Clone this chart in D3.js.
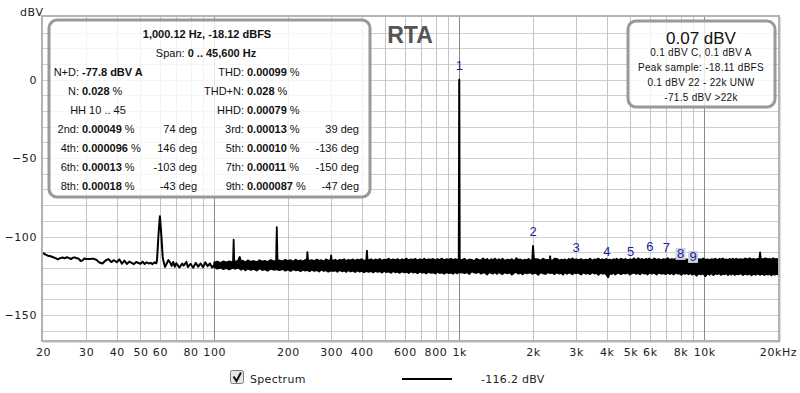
<!DOCTYPE html>
<html lang="en">
<head>
<meta charset="utf-8">
<title>RTA</title>
<script src="https://d3js.org/d3.v7.min.js"></script>
<style>
  body { margin: 0; background: #fff; }
</style>
</head>
<body>
<div id="chart"></div>
<script>
// ---- data ----
const xTickValues = [20, 30, 40, 50, 60, 80, 100, 200, 300, 400, 600, 800, 1000, 2000, 3000, 4000, 5000, 6000, 8000, 10000, 20000];
const xTickLabels = ["20", "30", "40", "50", "60", "80", "100", "200", "300", "400", "600", "800", "1k", "2k", "3k", "4k", "5k", "6k", "8k", "10k", "20kHz"];
const xMinorGrid = [30, 40, 50, 60, 70, 80, 90, 200, 300, 400, 500, 600, 700, 800, 900, 2000, 3000, 4000, 5000, 6000, 7000, 8000, 9000];
const xMajorGrid = [100, 1000, 10000];
const yTickValues = [0, -50, -100, -150];
const yGridValues = [30, 20, 10, 0, -10, -20, -30, -40, -50, -60, -70, -80, -90, -100, -110, -120, -130, -140, -150, -160];

// spectrum below 100 Hz, one trace [Hz, dBV]
const lowBand = [
  [20, -110.5], [20.5, -111.5], [21, -112.3], [21.5, -112.6], [22, -113.2], [22.5, -113.8], [23, -114.6], [23.5, -113.8],
  [24, -113.4], [24.5, -113.9], [25, -113.2], [25.5, -113.6], [26, -114.4], [26.5, -113.5], [27, -113.3], [27.5, -113.9],
  [28, -114.2], [28.5, -115.6], [29, -115.2], [29.5, -114.0], [30, -114.3], [31, -114.4], [32, -114.1], [33, -114.8],
  [34, -116.6], [35, -117.2], [36, -115.3], [37, -114.4], [38, -116.3], [39, -115.1], [40, -116.4], [41, -114.6],
  [42, -117.3], [43, -115.4], [44, -117.5], [45, -116.0], [46, -116.8], [47, -117.6], [48, -116.2], [49, -116.9],
  [50, -117.4], [51, -116.1], [52, -117.5], [53, -116.4], [54, -117.2], [55, -116.8], [56, -117.6], [57, -116.5],
  [58, -117.1], [58.4, -115], [59.2, -99], [60, -87], [60.8, -99], [61.6, -113], [62, -115.5], [63, -119.4],
  [64, -117.2], [65, -115.0], [66, -116.5], [67, -118.7], [68, -116.2], [69, -119.3], [70, -117.0], [72, -119.8],
  [74, -117.3], [75, -118.6], [77, -116.2], [78, -119.5], [80, -117.4], [82, -119.9], [84, -116.8], [86, -119.2],
  [88, -117.2], [90, -119.6], [92, -116.4], [94, -118.9], [96, -117.2], [98, -119.8]
];
// above 100 Hz the trace fills each display column: [Hz, max dBV, min dBV]
const midBand = [
  [100, -116.5, -119.5], [103, -116, -120.5], [106, -117, -119.8], [109, -115.8, -120.8], [112, -116.6, -120], [115, -115.9, -121],
  [118, -116.4, -120.2], [119.3, -116.2, -120], [120, -102, -118], [120.7, -116.5, -120.3], [122, -116, -120.6], [125, -115.5, -119.8],
  [127, -113, -120.5], [129, -116.2, -121.2],
  [131, -115.4, -120.1], [134, -116.5, -121.6], [137, -115.2, -120.4], [141, -116.1, -121.3], [145, -115.6, -120.6], [149, -116.4, -121.7],
  [153, -115.1, -120.3], [157, -116, -121.4], [161, -115.5, -120.8], [165, -116.3, -121.9], [170, -115, -120.5], [175, -115.8, -121.2],
  [178.8, -115.6, -120.9], [180, -94, -119], [181.2, -115.4, -121.1],
  [185, -115.3, -121.4], [190, -115.9, -120.6], [195, -114.9, -121.8], [200, -115.6, -121], [205, -115.1, -122],
  [210, -116, -120.9], [215, -114.8, -121.6], [220, -115.7, -121.2], [225, -115.2, -122.1], [230, -115.9, -121], [235, -114.9, -121.8],
  [238.5, -115.5, -121.5], [240, -110, -121.3], [241.5, -115.2, -121.7], [245, -115.4, -122.2], [250, -115, -121.1], [256, -115.8, -121.9],
  [262, -114.7, -121.4], [268, -115.5, -122.3],
  [274, -115.1, -121], [280, -115.9, -122], [286, -114.6, -121.5], [292, -115.3, -122.4], [298.2, -115.6, -121.8], [300, -112, -121.2],
  [301.8, -115.2, -121.9], [306, -115.4, -122],
  [312, -114.8, -121.6], [318, -115.6, -122.5], [325, -114.9, -121.3], [332, -115.2, -122.2], [339, -114.5, -121.7], [346, -115.7, -122.6],
  [353, -114.8, -121.4], [360, -115.3, -122.3], [368, -114.6, -121.8], [376, -115.5, -122.7], [384, -114.7, -121.5], [392, -115.2, -122.4],
  [400, -114.4, -121.9], [408, -115.6, -122.8], [417.5, -115.1, -122.1], [420, -109, -121.6], [422.5, -115.3, -122.4], [428, -115, -122.5],
  [437, -114.5, -122], [446, -115.4, -122.9],
  [455, -114.6, -121.8], [464, -115.1, -122.6], [474, -114.3, -122.1], [484, -115.5, -123], [494, -114.7, -121.9], [504, -115, -122.7],
  [515, -114.2, -122.3], [526, -115.3, -123.1], [537, -114.6, -122], [548, -115.1, -122.8], [560, -114.4, -122.4], [572, -115.4, -123.2],
  [584, -114.5, -122.1], [596, -115, -122.9], [609, -114.1, -122.5], [622, -115.2, -123.3], [635, -114.6, -122.2], [648, -114.9, -123],
  [662, -114.3, -122.6], [676, -115.3, -123.4], [690, -114.5, -122.3], [705, -115, -123.1], [720, -114.2, -122.7], [735, -115.1, -123.5],
  [750, -114.6, -122.4], [766, -114.9, -123.2], [782, -114.3, -122.8], [798, -115.2, -123.6], [815, -114.4, -122.5], [832, -115, -123.3],
  [850, -114.1, -122.9], [868, -115.1, -123.7], [886, -114.5, -122.6], [905, -114.8, -123.4], [924, -114.2, -123], [943, -115, -123.8],
  [963, -114.4, -122.7], [983, -114.9, -123.5]
];
const fundamental = [[995, -114.5, -122.5], [999, 0.07, -119], [1000, 0.07, -119], [1001, 0.07, -119], [1005, -114.8, -123]];
const highBand = [
  [1025, -115.0, -122.8], [1050, -114.2, -123.4], [1075, -115.6, -122.6], [1100, -114.6, -123.9], [1125, -114.9, -122.1], [1150, -115.8, -123.0],
  [1175, -114.3, -123.2], [1200, -114.9, -122.4], [1225, -115.4, -123.7], [1250, -114.0, -122.9], [1275, -115.2, -123.1], [1300, -114.3, -124.2],
  [1325, -115.7, -122.6], [1350, -114.5, -123.3], [1375, -115.0, -123.6], [1400, -114.1, -122.7], [1425, -115.5, -123.8], [1450, -114.5, -122.5],
  [1475, -115.3, -123.4], [1500, -114.2, -124.0], [1535, -115.6, -122.8], [1570, -114.7, -123.5], [1605, -115.1, -122.9], [1640, -114.4, -124.3],
  [1675, -115.8, -123.1], [1710, -113.9, -122.6], [1745, -115.0, -123.7], [1780, -114.6, -123.0], [1815, -115.4, -124.1], [1850, -114.8, -122.8],
  [1885, -115.2, -123.5], [1920, -114.3, -123.2], [1955, -115.5, -122.9], [1985, -114.9, -123.8], [2000, -106, -122.5], [2020, -115.1, -123.6],
  [2050, -114.4, -123.0], [2100, -114.6, -124.4], [2150, -115.3, -122.7], [2200, -114.2, -123.5], [2250, -115.0, -123.9], [2300, -114.9, -122.8],
  [2340, -115.1, -123.2], [2350, -112.6, -123.4], [2360, -115.2, -123.0], [2400, -115.4, -123.1], [2450, -114.1, -124.0], [2500, -114.2, -122.9],
  [2550, -115.3, -123.6], [2600, -114.8, -123.2],
  [2650, -115.1, -124.3], [2700, -114.6, -122.7], [2750, -115.5, -123.8], [2800, -114.3, -123.0], [2850, -114.9, -123.4], [2900, -114.0, -124.1],
  [2950, -115.2, -122.8], [3000, -114.5, -123.5], [3070, -115.0, -123.1], [3140, -114.4, -124.2], [3210, -115.3, -122.9], [3280, -114.7, -123.7],
  [3350, -115.1, -123.3], [3420, -114.2, -124.0], [3490, -115.4, -122.8], [3560, -114.6, -123.6], [3630, -114.9, -123.2], [3700, -114.1, -124.4],
  [3770, -115.2, -123.0], [3840, -114.5, -123.8], [3910, -115.0, -123.4], [3980, -114.3, -124.1], [4050, -115.1, -126.0], [4120, -114.7, -123.3],
  [4190, -115.3, -123.9], [4260, -114.5, -123.0], [4330, -114.8, -124.2], [4400, -114.2, -123.5], [4470, -115.4, -123.1], [4570, -114.2, -124.0],
  [4670, -114.9, -123.2], [4770, -114.4, -123.7], [4870, -115.2, -122.9], [4970, -114.6, -124.3], [5070, -114.9, -123.4], [5170, -114.0, -123.0],
  [5270, -115.3, -123.8], [5370, -113.9, -123.2], [5470, -114.8, -124.1], [5570, -114.3, -122.9], [5670, -115.0, -123.6], [5770, -114.3, -123.3],
  [5870, -114.7, -124.2], [5970, -114.1, -123.0], [6110, -115.2, -123.7], [6250, -114.0, -123.1], [6390, -114.9, -124.3], [6530, -114.4, -123.0],
  [6670, -115.1, -123.8], [6810, -114.4, -123.4], [6950, -114.8, -124.0], [7090, -113.8, -123.1], [7230, -115.0, -123.9], [7370, -114.4, -123.3],
  [7510, -114.9, -124.2], [7650, -114.2, -123.0], [7790, -115.3, -123.7], [7930, -114.5, -123.5], [8070, -114.8, -124.4], [8210, -114.1, -123.2],
  [8350, -115.2, -123.8], [8490, -114.6, -123.4], [8630, -114.9, -124.1], [8770, -114.3, -123.0], [8910, -115.1, -124.3], [9100, -114.2, -123.5],
  [9300, -115.0, -125.0], [9500, -114.5, -123.6], [9700, -114.8, -124.2], [9900, -114.1, -123.4], [10100, -114.9, -125.4], [10300, -114.6, -123.5],
  [10500, -115.0, -124.4], [10700, -114.5, -123.3], [10900, -114.8, -124.6], [11100, -114.2, -123.6], [11300, -115.1, -124.0], [11500, -114.3, -123.2],
  [11700, -114.7, -124.5], [11900, -114.0, -123.7], [12100, -114.9, -124.1], [12300, -114.6, -123.4], [12500, -115.0, -124.6], [12700, -114.3, -123.5],
  [12900, -114.8, -124.3], [13100, -114.1, -123.3], [13300, -114.9, -124.5], [13500, -114.2, -123.8], [13800, -114.7, -124.2], [14100, -114.4, -123.4],
  [14400, -114.9, -124.6], [14700, -114.0, -123.6], [15000, -114.6, -124.3], [15300, -113.8, -123.5], [15600, -114.7, -124.7], [15900, -114.2, -123.8],
  [16200, -114.8, -124.4], [16500, -114.3, -123.6], [16780, -114.6, -124.1], [16900, -110.2, -124.5], [17020, -114.4, -124.0], [17300, -114.5, -123.9],
  [17600, -114.1, -124.6], [17900, -114.0, -123.7],
  [18200, -114.6, -124.3], [18500, -114.2, -123.6], [18800, -114.8, -124.7], [19100, -113.9, -123.8], [19400, -114.5, -124.4], [19700, -114.3, -123.9],
  [20000, -114.6, -124.2]
];

// harmonic markers
const harmLabels = ["1", "2", "3", "4", "5", "6", "7", "8", "9"];
const harmFreqs = [1000.12, 2000.24, 3000.36, 4000.48, 5000.6, 6000.72, 7000.84, 8000.96, 9001.08];
const harmLabelDb = [8.9, -97.0, -107.2, -109.8, -109.8, -106.6, -107.2, -111.1, -113.0];
const harmHighlighted = [false, false, false, false, false, false, false, true, true];

// measurement panel
const infoHeader = ["1,000.12 Hz, -18.12 dBFS"];
const infoSpan = ["Span: ", "0 .. 45,600 Hz"];
const infoRows = [
  { l1: "N+D:", v1: "-77.8 dBV A", s1: "", l2: "THD:", v2: "0.00099", s2: " %" },
  { l1: "N:", v1: "0.028", s1: " %", l2: "THD+N:", v2: "0.028", s2: " %" },
  { c1: "HH 10 .. 45", l2: "HHD:", v2: "0.00079", s2: " %" },
  { l1: "2nd:", v1: "0.00049", s1: " %", d1: "74 deg", l2: "3rd:", v2: "0.00013", s2: " %", d2: "39 deg" },
  { l1: "4th:", v1: "0.000096", s1: " %", d1: "146 deg", l2: "5th:", v2: "0.00010", s2: " %", d2: "-136 deg" },
  { l1: "6th:", v1: "0.00013", s1: " %", d1: "-103 deg", l2: "7th:", v2: "0.00011", s2: " %", d2: "-150 deg" },
  { l1: "8th:", v1: "0.00018", s1: " %", d1: "-43 deg", l2: "9th:", v2: "0.000087", s2: " %", d2: "-47 deg" }
];
const levelMain = "0.07 dBV";
const levelLines = ["0.1 dBV C, 0.1 dBV A", "Peak sample: -18.11 dBFS", "0.1 dBV 22 - 22k UNW", "-71.5 dBV >22k"];
const legendName = "Spectrum";
const legendValue = "-116.2 dBV";

// ---- drawing ----
const width = 800, height = 393;
const plot = { left: 43, right: 778, top: 17, bottom: 340 };
const axisFont = "DejaVu Sans", boxFont = "Liberation Sans";

const svg = d3.select("#chart").append("svg")
  .attr("width", width)
  .attr("height", height)
  .attr("font-family", axisFont);

const x = d3.scaleLog().domain([20, 20000]).range([plot.left, plot.right]);
const y = d3.scaleLinear().domain([-166, 40]).range([plot.bottom, plot.top]);

svg.append("defs").append("clipPath").attr("id", "plotclip")
  .append("rect")
  .attr("x", plot.left).attr("y", plot.top)
  .attr("width", plot.right - plot.left).attr("height", plot.bottom - plot.top);

// grid
const grid = svg.append("g");
grid.selectAll(".hgrid").data(yGridValues).enter().append("line")
  .attr("x1", plot.left).attr("x2", plot.right)
  .attr("y1", d => Math.round(y(d)) + 0.5).attr("y2", d => Math.round(y(d)) + 0.5)
  .attr("stroke", "#cfcfcf");
grid.selectAll(".vgrid").data(xMinorGrid).enter().append("line")
  .attr("x1", d => Math.round(x(d)) + 0.5).attr("x2", d => Math.round(x(d)) + 0.5)
  .attr("y1", plot.top).attr("y2", plot.bottom)
  .attr("stroke", "#c4c4c4");
grid.selectAll(".vmajor").data(xMajorGrid).enter().append("line")
  .attr("x1", d => Math.round(x(d)) + 0.5).attr("x2", d => Math.round(x(d)) + 0.5)
  .attr("y1", plot.top).attr("y2", plot.bottom)
  .attr("stroke", "#8a8a8a");

// plot frame
svg.append("rect")
  .attr("x", plot.left - 1).attr("y", plot.top - 1)
  .attr("width", plot.right - plot.left + 2).attr("height", plot.bottom - plot.top + 2)
  .attr("fill", "none").attr("stroke", "#b4b4b4").attr("stroke-width", 2);
svg.append("line")
  .attr("x1", plot.right + 2.5).attr("x2", plot.right + 2.5)
  .attr("y1", plot.top).attr("y2", plot.bottom + 2)
  .attr("stroke", "#dcdcdc");
svg.append("line")
  .attr("x1", plot.left).attr("x2", plot.right + 2)
  .attr("y1", plot.bottom + 2.5).attr("y2", plot.bottom + 2.5)
  .attr("stroke", "#dcdcdc");

// axes (labels only)
const xAxis = d3.axisBottom(x).tickValues(xTickValues)
  .tickFormat((d, i) => xTickLabels[i]).tickSize(0).tickPadding(8);
svg.append("g").attr("transform", `translate(0,${plot.bottom})`).call(xAxis)
  .call(g => g.select(".domain").remove())
  .call(g => g.selectAll("text").attr("font-size", 11).attr("fill", "#222")
    .attr("font-family", axisFont).attr("letter-spacing", "0.6px"));

const yAxis = d3.axisLeft(y).tickValues(yTickValues).tickSize(0).tickPadding(6);
svg.append("g").attr("transform", `translate(${plot.left},0)`).call(yAxis)
  .call(g => g.select(".domain").remove())
  .call(g => g.selectAll("text").attr("font-size", 11).attr("fill", "#222")
    .attr("font-family", axisFont).attr("letter-spacing", "0.6px"));

svg.append("text").attr("x", 20).attr("y", 16)
  .attr("font-size", 11).attr("fill", "#222").attr("letter-spacing", "0.6px").text("dBV");

// title
svg.append("text").attr("x", 410).attr("y", 43)
  .attr("text-anchor", "middle").attr("font-family", boxFont)
  .attr("font-weight", "bold").attr("font-size", 23).attr("fill", "#555")
  .text("RTA");

// spectrum: single trace below 100 Hz, min/max envelope above
const columns = midBand.concat(fundamental, highBand);
const traceLine = d3.line().x(d => x(d[0])).y(d => y(d[1]));
const envelope = d3.area().x(d => x(d[0])).y0(d => y(d[2])).y1(d => y(d[1]));
const spec = svg.append("g").attr("clip-path", "url(#plotclip)");
spec.append("path")
  .datum(lowBand.concat([[columns[0][0], (columns[0][1] + columns[0][2]) / 2]]))
  .attr("d", traceLine)
  .attr("fill", "none")
  .attr("stroke", "#000")
  .attr("stroke-width", 2)
  .attr("stroke-linejoin", "round");
spec.append("path")
  .datum(columns)
  .attr("d", envelope)
  .attr("fill", "#000")
  .attr("stroke", "#000")
  .attr("stroke-width", 1.8)
  .attr("stroke-linejoin", "round");

// harmonic markers
const marks = svg.append("g").selectAll("g").data(harmLabels).enter().append("g")
  .attr("transform", (d, i) => `translate(${x(harmFreqs[i])},${y(harmLabelDb[i])})`);
marks.filter((d, i) => harmHighlighted[i]).append("rect")
  .attr("x", -5).attr("y", -6).attr("width", 10).attr("height", 12)
  .attr("fill", "#cdd3de");
marks.append("text")
  .attr("text-anchor", "middle").attr("dy", 4.5)
  .attr("font-family", boxFont).attr("font-size", 13)
  .attr("fill", "#1c1c9c")
  .text(d => d);

// measurement panel (left)
const info = svg.append("g").attr("font-family", boxFont).attr("font-size", 11).attr("fill", "#111");
info.append("rect")
  .attr("x", 49).attr("y", 20).attr("width", 321).attr("height", 177)
  .attr("rx", 8).attr("ry", 8)
  .attr("fill", "#fff").attr("fill-opacity", 0.8)
  .attr("stroke", "#999").attr("stroke-width", 3);
info.append("text").attr("x", 207).attr("y", 38).attr("text-anchor", "middle")
  .attr("font-weight", "bold").text(infoHeader[0]);
const spanText = info.append("text").attr("x", 206).attr("y", 57).attr("text-anchor", "middle");
spanText.append("tspan").text(infoSpan[0]);
spanText.append("tspan").attr("font-weight", "bold").text(infoSpan[1]);

const rowY = [76, 95, 114, 133, 152, 171, 190];
infoRows.forEach((r, i) => {
  const yy = rowY[i];
  if (r.c1) {
    info.append("text").attr("x", 98).attr("y", yy).attr("text-anchor", "middle").text(r.c1);
  } else {
    info.append("text").attr("x", 79).attr("y", yy).attr("text-anchor", "end").text(r.l1);
    const t = info.append("text").attr("x", 82).attr("y", yy);
    t.append("tspan").attr("font-weight", "bold").text(r.v1);
    t.append("tspan").text(r.s1);
  }
  if (r.d1) info.append("text").attr("x", 197).attr("y", yy).attr("text-anchor", "end").text(r.d1);
  info.append("text").attr("x", 244).attr("y", yy).attr("text-anchor", "end").text(r.l2);
  const t2 = info.append("text").attr("x", 247).attr("y", yy);
  t2.append("tspan").attr("font-weight", "bold").text(r.v2);
  t2.append("tspan").text(r.s2);
  if (r.d2) info.append("text").attr("x", 359).attr("y", yy).attr("text-anchor", "end").text(r.d2);
});

// level panel (right)
const lvl = svg.append("g").attr("font-family", boxFont).attr("fill", "#111");
lvl.append("rect")
  .attr("x", 628).attr("y", 21).attr("width", 147).attr("height", 86)
  .attr("rx", 8).attr("ry", 8)
  .attr("fill", "#fff").attr("fill-opacity", 0.8)
  .attr("stroke", "#999").attr("stroke-width", 3);
lvl.append("text").attr("x", 701).attr("y", 44).attr("text-anchor", "middle")
  .attr("font-size", 17).text(levelMain);
lvl.selectAll(".ln").data(levelLines).enter().append("text")
  .attr("x", 701).attr("y", (d, i) => 56 + i * 15)
  .attr("text-anchor", "middle").attr("font-size", 10).attr("letter-spacing", "0.3px")
  .text(d => d);

// legend
const leg = svg.append("g");
leg.append("rect").attr("x", 230.5).attr("y", 370.5).attr("width", 13).attr("height", 13)
  .attr("rx", 2).attr("fill", "#e6e6e6").attr("stroke", "#7a7a7a");
leg.append("path").attr("d", "M233.5,376.5 L236.5,381 L241,372.5")
  .attr("fill", "none").attr("stroke", "#111").attr("stroke-width", 2);
leg.append("text").attr("x", 250).attr("y", 383).attr("font-size", 11)
  .attr("fill", "#222").attr("letter-spacing", "0.3px").text(legendName);
leg.append("line").attr("x1", 402).attr("x2", 452).attr("y1", 379).attr("y2", 379)
  .attr("stroke", "#000").attr("stroke-width", 2);
leg.append("text").attr("x", 481).attr("y", 383).attr("font-size", 11)
  .attr("fill", "#222").attr("letter-spacing", "0.3px").text(legendValue);
</script>
</body>
</html>
